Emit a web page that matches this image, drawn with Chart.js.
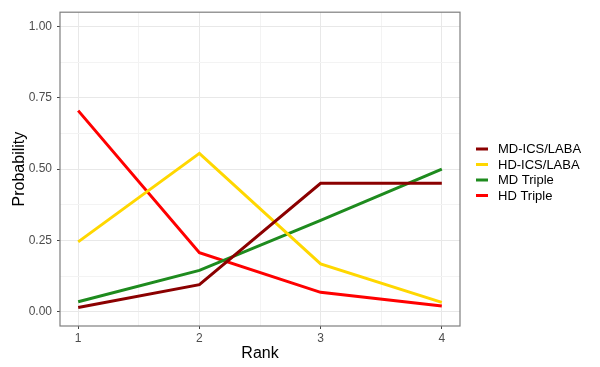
<!DOCTYPE html>
<html>
<head>
<meta charset="utf-8">
<script src="https://cdn.jsdelivr.net/npm/chart.js@4/dist/chart.umd.min.js"></script>
<style>
  html, body { margin: 0; padding: 0; background: #fff; }
  #wrap { width: 600px; height: 367px; position: relative; }
</style>
</head>
<body>
<div id="wrap"><canvas id="rankChart" width="600" height="367"></canvas></div>
<script>
// ranks and probability per treatment
const ranks = [1, 2, 3, 4];
const mdIcsLaba = [0.015, 0.095, 0.45, 0.45];
const hdIcsLaba = [0.245, 0.555, 0.168, 0.033];
const mdTriple = [0.035, 0.145, 0.32, 0.5];
const hdTriple = [0.705, 0.207, 0.068, 0.02];
const seriesNames = ['MD-ICS/LABA', 'HD-ICS/LABA', 'MD Triple', 'HD Triple'];
const seriesColors = ['#8b0000', '#ffd700', '#1e8b1e', '#ff0000'];
const yTickLabels = ['0.00', '0.25', '0.50', '0.75', '1.00'];

const allSeries = [mdIcsLaba, hdIcsLaba, mdTriple, hdTriple];
const FONT = "'Liberation Sans', Arial, sans-serif";

function pts(vals) {
  return ranks.map(function(r, i) { return {x: r, y: vals[i]}; });
}

const datasets = [];
for (let i = 0; i < allSeries.length; i++) {
  datasets.push({
    label: seriesNames[i],
    data: pts(allSeries[i]),
    borderColor: seriesColors[i],
    backgroundColor: seriesColors[i],
    borderWidth: 3,
    pointRadius: 0,
    tension: 0
  });
}

function isMajor(v) { return Math.abs(v - Math.round(v)) < 1e-6; }

// panel border + legend drawn by hand, ggplot style
const panelPlugin = {
  id: 'panel',
  afterDraw(chart) {
    const ctx = chart.ctx, a = chart.chartArea;
    ctx.save();
    ctx.strokeStyle = '#7f7f7f';
    ctx.lineWidth = 1.2;
    ctx.strokeRect(a.left, a.top, a.right - a.left, a.bottom - a.top);
    // legend
    const rowY = [149, 164.5, 180, 195.5];
    ctx.font = '13px ' + FONT;
    ctx.textBaseline = 'middle';
    ctx.fillStyle = '#000';
    for (let i = 0; i < seriesNames.length; i++) {
      ctx.strokeStyle = seriesColors[i];
      ctx.lineWidth = 3;
      ctx.beginPath();
      ctx.moveTo(476, rowY[i]);
      ctx.lineTo(488, rowY[i]);
      ctx.stroke();
      ctx.fillText(seriesNames[i], 498, rowY[i] + 0.5);
    }
    ctx.restore();
  }
};

const canvas = document.getElementById('rankChart');
const chart = new Chart(canvas, {
  type: 'line',
  data: { datasets: datasets },
  options: {
    responsive: false,
    animation: false,
    layout: { padding: { top: 9.5, right: 140, left: 0, bottom: 0 } },
    plugins: { legend: { display: false }, tooltip: { enabled: false } },
    scales: {
      x: {
        type: 'linear',
        min: 0.85,
        max: 4.15,
        afterBuildTicks(scale) {
          scale.ticks = [1, 1.5, 2, 2.5, 3, 3.5, 4].map(function(v) { return {value: v}; });
        },
        afterFit(scale) { scale.height = 41; },
        border: { display: false },
        grid: {
          color: function(c) { return isMajor(c.tick.value) ? '#e8e8e8' : '#f3f3f3'; },
          lineWidth: 1,
          tickLength: 3,
          tickColor: function(c) { return isMajor(c.tick.value) ? '#444' : 'rgba(0,0,0,0)'; }
        },
        ticks: {
          autoSkip: false,
          maxRotation: 0,
          padding: 2,
          color: '#4d4d4d',
          font: { family: FONT, size: 12 },
          callback: function(v) { return isMajor(v) ? String(v) : ''; }
        },
        title: {
          display: true,
          text: 'Rank',
          color: '#000',
          font: { family: FONT, size: 16 },
          padding: { top: 0, bottom: 4 }
        }
      },
      y: {
        min: -0.05,
        max: 1.05,
        afterBuildTicks(scale) {
          const t = [];
          for (let k = 0; k <= 8; k++) t.push({value: k * 0.125});
          scale.ticks = t;
        },
        afterFit(scale) { scale.width = 60; },
        border: { display: false },
        grid: {
          color: function(c) { return (c.index % 2 === 0) ? '#e8e8e8' : '#f3f3f3'; },
          lineWidth: 1,
          tickLength: 3,
          tickColor: function(c) { return (c.index % 2 === 0) ? '#444' : 'rgba(0,0,0,0)'; }
        },
        ticks: {
          autoSkip: false,
          padding: 5,
          color: '#4d4d4d',
          font: { family: FONT, size: 12 },
          callback: function(v, i) { return (i % 2 === 0) ? yTickLabels[i / 2] : ''; }
        },
        title: {
          display: true,
          text: 'Probability',
          color: '#000',
          font: { family: FONT, size: 16 },
          padding: { top: 10, bottom: 0 }
        }
      }
    }
  },
  plugins: [panelPlugin]
});
</script>
</body>
</html>
